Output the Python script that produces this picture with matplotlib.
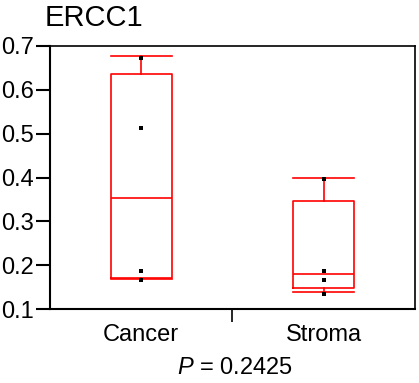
import matplotlib
matplotlib.use("Agg")
import matplotlib.pyplot as plt

plt.rcParams['font.family'] = ['Liberation Sans', 'DejaVu Sans']
plt.rcParams['mathtext.fontset'] = 'custom'
plt.rcParams['mathtext.rm'] = 'Liberation Sans'
plt.rcParams['mathtext.it'] = 'Liberation Sans:italic'

# box summaries
groups = ['Cancer', 'Stroma']
whisker_low = [0.169, 0.140]
q1 = [0.172, 0.147]
medians = [0.354, 0.180]
q3 = [0.636, 0.346]
whisker_high = [0.677, 0.399]

# individual samples
cancer_pts = [0.672, 0.513, 0.186, 0.167]
stroma_pts = [0.396, 0.186, 0.167, 0.135]

yticks = [0.1, 0.2, 0.3, 0.4, 0.5, 0.6, 0.7]

fig = plt.figure(figsize=(4.19, 3.83), dpi=100)
ax = fig.add_axes([0.119, 0.193, 0.871, 0.687])

stats = []
for i, g in enumerate(groups):
    stats.append(dict(label=g, whislo=whisker_low[i], q1=q1[i], med=medians[i],
                      q3=q3[i], whishi=whisker_high[i], fliers=[]))

red = dict(color='#ff0000', linewidth=1.2)
ax.bxp(stats, positions=[1, 2], widths=0.335, showfliers=False,
       boxprops=red, medianprops=red, whiskerprops=red, capprops=red,
       capwidths=0.335)

for x, pts in zip([1, 2], [cancer_pts, stroma_pts]):
    ax.scatter([x] * len(pts), pts, marker='s', s=9, color='black', zorder=3,
               linewidths=0)

ax.set_xlim(0.5, 2.5)
ax.set_ylim(0.1, 0.7)
ax.set_yticks(yticks)
ax.set_yticklabels(['%.1f' % v for v in yticks], fontsize=17)
ax.set_xticks([1.5])
ax.set_xticklabels([''])
ax.tick_params(axis='y', direction='out', length=10, width=1.5, pad=1.5)
ax.tick_params(axis='x', direction='out', length=9, width=1.2)
for s in ax.spines.values():
    s.set_linewidth(1.5)
for s in ['top', 'right']:
    ax.spines[s].set_linewidth(1.2)

for x, g in zip([1, 2], groups):
    ax.text(x, -0.099, g, transform=ax.get_xaxis_transform(), ha='center',
            va='center', fontsize=17)

fig.text(0.107, 0.953, 'ERCC1', fontsize=21, ha='left', va='center')
fig.text(0.56, 0.040, r'$P$ = 0.2425', fontsize=17, ha='center', va='center')

fig.savefig('out.png', dpi=100)
